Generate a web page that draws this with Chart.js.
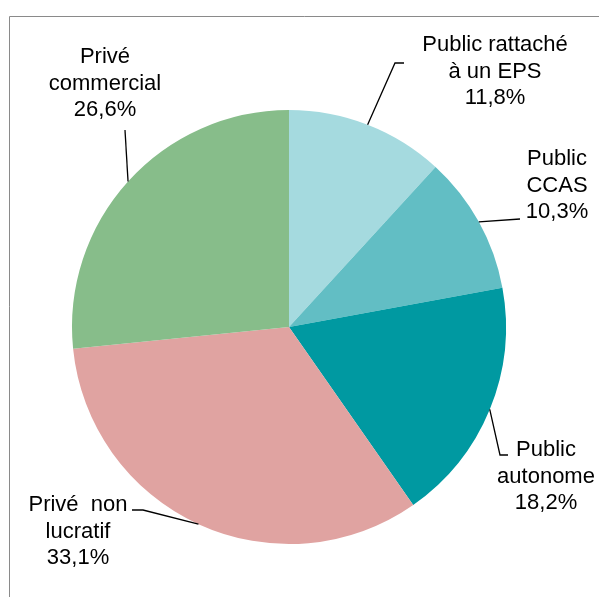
<!DOCTYPE html>
<html>
<head>
<meta charset="utf-8">
<script src="https://cdn.jsdelivr.net/npm/chart.js@4"></script>
<style>
  html, body { margin: 0; padding: 0; background: #fff; }
  #wrap { position: relative; width: 599px; height: 597px; }
</style>
</head>
<body>
<div id="wrap"><canvas id="myChart" width="599" height="597"></canvas></div>
<script>
// shares by type of establishment, clockwise from 12 o'clock
let categories = ["Public rattaché à un EPS", "Public CCAS", "Public autonome", "Privé non lucratif", "Privé commercial"]
let shares = [11.8, 10.3, 18.2, 33.1, 26.6]
let labelLines = [
  ["Public rattaché", "à un EPS"],
  ["Public", "CCAS"],
  ["Public", "autonome"],
  ["Privé  non", "lucratif"],
  ["Privé", "commercial"]
]
let colors = ["#a5dadf", "#62bec4", "#0099a1", "#e0a3a1", "#87bd8a"]

// where each text block sits (center x, first line y) and the bend of its leader line
let labelPos = [
  { x: 495, y: 45, elbow: [[395, 63], [404, 63]] },
  { x: 557, y: 159, elbow: [[520, 219]] },
  { x: 546, y: 450, elbow: [[500, 455], [508, 455]] },
  { x: 78, y: 505, elbow: [[143, 510], [132, 510]] },
  { x: 105, y: 57, elbow: [[125, 130]] }
]

function fmt(v) {
  return v.toFixed(1).replace(".", ",") + "%"
}

const frame = {
  id: "frame",
  beforeDraw(chart) {
    let ctx = chart.ctx
    ctx.save()
    ctx.strokeStyle = "#8a8a8a"
    ctx.lineWidth = 1
    ctx.beginPath()
    ctx.moveTo(9.5, 597)
    ctx.lineTo(9.5, 16.5)
    ctx.lineTo(599, 16.5)
    ctx.stroke()
    ctx.restore()
  }
}

const sliceLabels = {
  id: "sliceLabels",
  afterDraw(chart) {
    let ctx = chart.ctx
    let arcs = chart.getDatasetMeta(0).data
    ctx.save()
    ctx.font = "22px 'Liberation Sans', Arial, sans-serif"
    ctx.fillStyle = "#000"
    ctx.textAlign = "center"
    ctx.textBaseline = "middle"
    ctx.strokeStyle = "#000"
    ctx.lineWidth = 1.3
    arcs.forEach((arc, i) => {
      let p = arc.getProps(["x", "y", "startAngle", "endAngle", "outerRadius"], true)
      let mid = (p.startAngle + p.endAngle) / 2
      let ex = p.x + Math.cos(mid) * p.outerRadius
      let ey = p.y + Math.sin(mid) * p.outerRadius
      let pos = labelPos[i]
      ctx.beginPath()
      ctx.moveTo(ex, ey)
      pos.elbow.forEach(pt => ctx.lineTo(pt[0], pt[1]))
      ctx.stroke()
      let lines = labelLines[i].concat([fmt(shares[i])])
      lines.forEach((t, j) => {
        ctx.fillText(t, pos.x, pos.y + j * 26.5)
      })
    })
    ctx.restore()
  }
}

let ctx = document.getElementById("myChart").getContext("2d")

let myChart = new Chart(ctx, {
  type: "pie",
  data: {
    labels: categories,
    datasets: [{
      data: shares,
      backgroundColor: colors,
      borderWidth: 0
    }]
  },
  options: {
    responsive: false,
    animation: false,
    layout: { padding: { left: 72, right: 93, top: 110, bottom: 53 } },
    plugins: {
      legend: { display: false },
      tooltip: { enabled: false }
    }
  },
  plugins: [frame, sliceLabels]
})
</script>
</body>
</html>
